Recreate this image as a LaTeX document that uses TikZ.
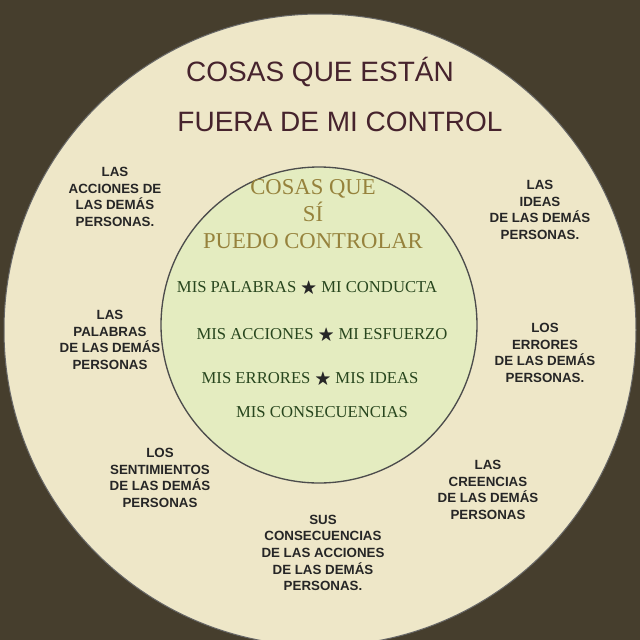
\documentclass[tikz,border=0pt]{standalone}
\usepackage{amssymb}
\usepackage{fontspec}
\setsansfont{Liberation Sans}
\setmainfont{Liberation Serif}
\definecolor{bgdark}{RGB}{70,62,45}
\definecolor{outerfill}{RGB}{238,231,200}
\definecolor{innerfill}{RGB}{228,236,192}
\definecolor{titlecol}{RGB}{70,35,45}
\definecolor{olivecol}{RGB}{150,130,60}
\definecolor{itemcol}{RGB}{40,70,30}
\tikzset{every picture/.style={line width=0.75pt}}
\tikzset{
  outerlbl/.style={font=\sffamily\bfseries\fontsize{10}{12.5}\selectfont, text=black!85, align=center},
  itemlbl/.style={font=\rmfamily\fontsize{12.5}{15}\selectfont, text=itemcol},
}
\newcommand{\itemstar}{\;{\color{black!85}$\bigstar$}\;}
\begin{document}
\begin{tikzpicture}[x=0.75pt,y=0.75pt,yscale=-1,xscale=1]
	\useasboundingbox (0,0) rectangle (640,640);
	%Background
	\fill [bgdark] (0,0) rectangle (640,640);
	%Outer circle
	\draw [draw=black!60, fill=outerfill] (320,330) circle (316);
	%Inner circle
	\draw [draw=black!70, line width=1pt, fill=innerfill] (319,325) circle (158);

	% Title
	\draw (320,72) node [font=\sffamily\fontsize{21}{24}\selectfont, text=titlecol] (title1) {COSAS QUE ESTÁN};
	\draw (340,122) node [font=\sffamily\fontsize{21}{24}\selectfont, text=titlecol] (title2) {FUERA DE MI CONTROL};

	% Outer labels
	\draw (115,197) node [outerlbl] (accdem) {LAS\\ACCIONES DE\\LAS DEMÁS\\PERSONAS.};
	\draw (110,340) node [outerlbl] (paldem) {LAS\\PALABRAS\\DE LAS DEMÁS\\PERSONAS};
	\draw (160,478) node [outerlbl] (sentdem) {LOS\\SENTIMIENTOS\\DE LAS DEMÁS\\PERSONAS};
	\draw (323,553) node [outerlbl] (consdem) {SUS\\CONSECUENCIAS\\DE LAS ACCIONES\\DE LAS DEMÁS\\PERSONAS.};
	\draw (488,490) node [outerlbl] (creedem) {LAS\\CREENCIAS\\DE LAS DEMÁS\\PERSONAS};
	\draw (545,353) node [outerlbl] (errdem) {LOS\\ERRORES\\DE LAS DEMÁS\\PERSONAS.};
	\draw (540,210) node [outerlbl] (ideadem) {LAS\\IDEAS\\DE LAS DEMÁS\\PERSONAS.};

	% Inner title
	\draw (313,214) node [font=\rmfamily\fontsize{17}{20.5}\selectfont, text=olivecol, align=center] (innertitle) {COSAS QUE\\SÍ\\PUEDO CONTROLAR};

	% Inner items
	\draw (307,288) node [itemlbl] (item1) {MIS PALABRAS\itemstar MI CONDUCTA};
	\draw (322,335) node [itemlbl] (item2) {MIS ACCIONES\itemstar MI ESFUERZO};
	\draw (310,379) node [itemlbl] (item3) {MIS ERRORES\itemstar MIS IDEAS};
	\draw (322,412) node [itemlbl] (item4) {MIS CONSECUENCIAS};
\end{tikzpicture}
\end{document}
